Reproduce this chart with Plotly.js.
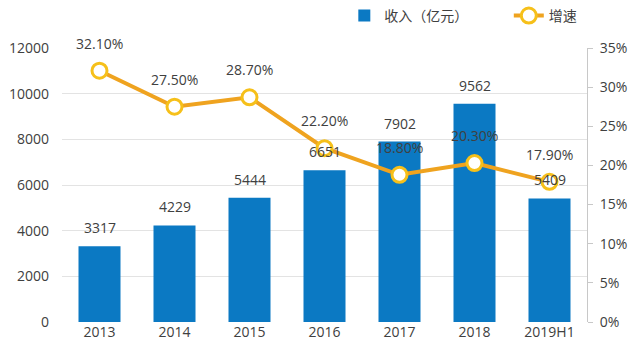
<!DOCTYPE html>
<html><head><meta charset="utf-8">
<script src="https://cdn.plot.ly/plotly-3.0.1.min.js"></script>
<style>html,body{margin:0;padding:0;background:#fff}#c{width:640px;height:358px}</style>
</head><body><div id="c"></div>
<script>
const categories = ['2013','2014','2015','2016','2017','2018','2019H1'];
const revenue = [3317, 4229, 5444, 6651, 7902, 9562, 5409];
const growth = [32.1, 27.5, 28.7, 22.2, 18.8, 20.3, 17.9];
const revenueName = '收入（亿元）';
const growthName = '增速';

const font = {family: '"Open Sans", "Noto Sans CJK SC", sans-serif', size: 14, color: '#404040'};

const annotations = [];
categories.forEach((c, i) => {
  annotations.push({x: i, y: revenue[i], xref: 'x', yref: 'y', text: String(revenue[i]),
    showarrow: false, yanchor: 'bottom', yshift: 7, font: font});
  annotations.push({x: i, y: growth[i], xref: 'x', yref: 'y2', text: growth[i].toFixed(2) + '%',
    showarrow: false, yanchor: 'bottom', yshift: 16, font: font});
});

const data = [
  {type: 'bar', name: revenueName, x: categories, y: revenue, legend: 'legend',
   marker: {color: '#0B79C3'}, width: 0.56},
  {type: 'scatter', mode: 'lines+markers', name: growthName, x: categories, y: growth, yaxis: 'y2', legend: 'legend2',
   line: {color: '#EFA31F', width: 4},
   marker: {size: 15, color: '#ffffff', line: {color: '#F6C01A', width: 3}}}
];

const legendBase = {orientation: 'h', xref: 'container', xanchor: 'left', y: 1, yref: 'container', yanchor: 'top',
  font: font, itemwidth: 30, bgcolor: 'rgba(0,0,0,0)'};

const layout = {
  width: 640, height: 358,
  margin: {l: 62, r: 53, t: 48, b: 36},
  paper_bgcolor: '#fff', plot_bgcolor: '#fff',
  font: font,
  showlegend: true,
  legend: Object.assign({}, legendBase, {x: 0.538}),
  legend2: Object.assign({}, legendBase, {x: 0.795}),
  bargap: 0.44,
  xaxis: {type: 'category', categoryorder: 'array', categoryarray: categories, range: [-0.5, 6.5],
    showgrid: false, showline: false, ticks: '', tickfont: font, zeroline: false},
  yaxis: {range: [0, 12000], dtick: 2000, tickformat: 'd', showgrid: true, gridcolor: '#e3e3e3', gridwidth: 1,
    zeroline: false, showline: false, ticks: '', tickfont: font, ticklabelstandoff: 12},
  yaxis2: {range: [0, 35], dtick: 5, overlaying: 'y', side: 'right', showgrid: false, zeroline: false,
    showline: true, linecolor: '#c8c8c8', linewidth: 1, ticks: 'outside', ticklen: 5, tickcolor: '#c8c8c8',
    ticksuffix: '%', tickfont: font, ticklabelstandoff: 4},
  annotations: annotations
};

Plotly.newPlot('c', data, layout, {displayModeBar: false, staticPlot: true});
</script>
</body></html>
